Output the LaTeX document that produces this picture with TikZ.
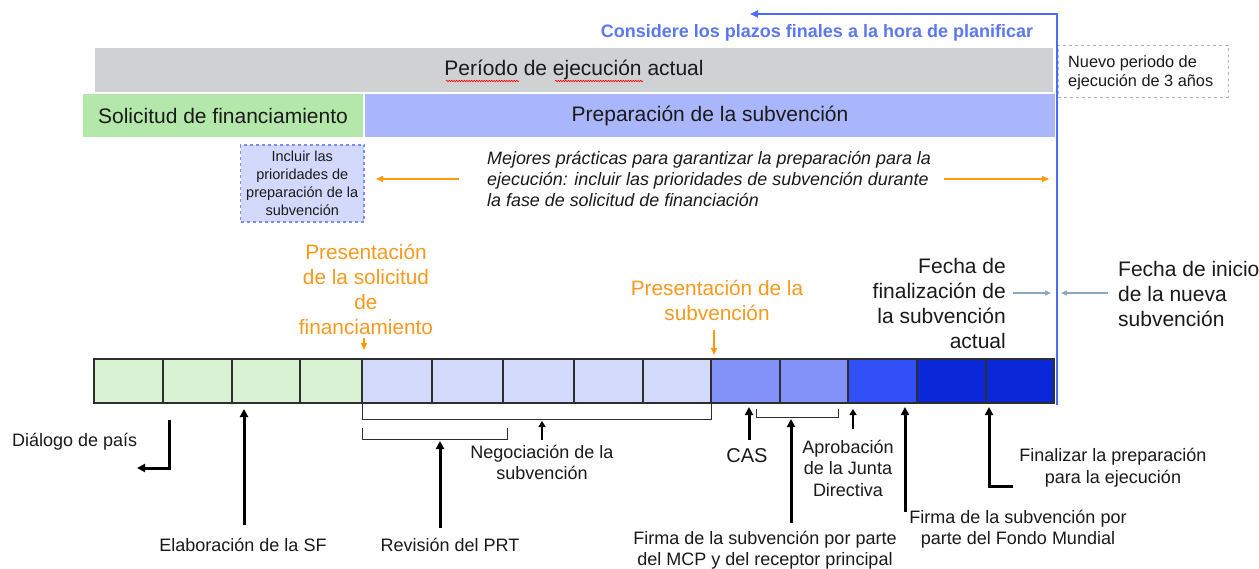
\documentclass[tikz,border=0pt]{standalone}
\usepackage{fontspec}
\setmainfont{Liberation Sans}
\usetikzlibrary{arrows.meta,decorations.pathmorphing}
\definecolor{greyb}{HTML}{D0D1D3}
\definecolor{greenb}{HTML}{B4E8AA}
\definecolor{blueb}{HTML}{AAB6FB}
\definecolor{boxfill}{HTML}{D3D9FB}
\definecolor{boxdraw}{HTML}{7B8CF2}
\definecolor{cgreen}{HTML}{D9F2D4}
\definecolor{clight}{HTML}{D4DAFB}
\definecolor{cmed}{HTML}{8292F8}
\definecolor{cbright}{HTML}{3250F8}
\definecolor{cdark}{HTML}{0A28D8}
\definecolor{orangec}{HTML}{FF9A0A}
\definecolor{orangetxt}{HTML}{F59A1E}
\definecolor{bluel}{HTML}{4F6CF5}
\definecolor{bluetxt}{HTML}{5B78EE}
\definecolor{steel}{HTML}{8AA8BF}
\definecolor{txt}{HTML}{1A1A1A}
\definecolor{lineg}{HTML}{2E2E2E}
\definecolor{dashg}{HTML}{B5B5B5}
\tikzset{
  bar/.style={inner sep=0pt, outer sep=0pt, text=txt, font=\fontsize{21}{25}\selectfont},
  cell/.style={draw=lineg, line width=1.2pt, inner sep=0pt, outer sep=0pt, minimum height=44pt, anchor=north west},
  lbl/.style={inner sep=0pt, text=txt, align=center, font=\fontsize{18}{21.5}\selectfont},
  biglbl/.style={inner sep=0pt, text=txt, font=\fontsize{21}{25}\selectfont},
  orlbl/.style={inner sep=0pt, text=orangetxt, align=center, font=\fontsize{20.8}{25}\selectfont},
  thickarr/.style={line width=3pt, draw=black, -{Triangle[length=8pt,width=8pt]}},
  thinbr/.style={line width=1pt, draw=lineg},
  orarr/.style={line width=1.5pt, draw=orangec, -{Triangle[length=7pt,width=6pt]}},
  starr/.style={line width=1.4pt, draw=steel, -{Triangle[length=6pt,width=5pt]}},
  wavy/.style={red, line width=0.6pt, decorate, decoration={snake, amplitude=0.7pt, segment length=2.5pt}}
}
\begin{document}
\begin{tikzpicture}[x=1pt,y=-1pt]
\fill[white] (0,0) rectangle (1259,569);
\useasboundingbox (0,0) rectangle (1259,569);

% top bars
\node[bar, fill=greyb, minimum width=958pt, minimum height=44pt] (per) at (574,70) {Período de ejecución actual};
\node[bar, fill=greenb, minimum width=280pt, minimum height=43pt] (sol) at (223,115.5) {Solicitud de financiamiento};
\node[bar, fill=blueb, minimum width=690pt, minimum height=43pt] (prep) at (710,115.5) {Preparación de la subvención};
\draw[wavy] (446,81) -- (519,81);
\draw[wavy] (555,81) -- (643,81);

% top blue message
\node[inner sep=0pt, text=bluetxt, font=\bfseries\fontsize{18}{21}\selectfont] (cons) at (817,33) {Considere los plazos finales a la hora de planificar};
\coordinate (blBot) at (1057,405);
\coordinate (blTop) at (1057,14);
\coordinate (blEnd) at (750,14);
\draw[line width=1.8pt, draw=bluel, -{Triangle[length=8pt,width=7pt]}] (blBot) -- (blTop) -- (blEnd);

% new period dashed box
\node[draw=dashg, dashed, line width=0.8pt, inner sep=0pt, minimum width=170pt, minimum height=52pt, anchor=north west] (nuevo) at (1058,45) {};
\node[inner sep=0pt, anchor=west, align=left, text=txt, font=\fontsize{16.3}{19}\selectfont] (nuevot) at (1068,72.5) {Nuevo periodo de\\ejecución de 3 años};

% include box and best practices
\node[draw=boxdraw, fill=boxfill, dashed, line width=1.5pt, inner sep=0pt, minimum width=123.5pt, minimum height=77pt, align=center, text=txt, font=\fontsize{14.5}{18}\selectfont] (incl) at (302.25,183.5) {Incluir las\\prioridades de\\preparación de la\\subvención};
\node[inner sep=0pt, anchor=west, align=left, text=txt, font=\itshape\fontsize{17.9}{21}\selectfont] (mej) at (487,179) {Mejores prácticas para garantizar la preparación para la\\ejecución: incluir las prioridades de subvención durante\\la fase de solicitud de financiación};
\coordinate (orL) at (459,179);
\coordinate (orLT) at (376,179);
\coordinate (orR1) at (944,179);
\coordinate (orR2) at (1049,179);
\draw[orarr] (orL) -- (orLT);
\draw[orarr] (orR1) -- (orR2);

% timeline cells
\node[cell, fill=cgreen, minimum width=69pt] (c1) at (94,359) {};
\node[cell, fill=cgreen, minimum width=69pt] (c2) at (163,359) {};
\node[cell, fill=cgreen, minimum width=68pt] (c3) at (232,359) {};
\node[cell, fill=cgreen, minimum width=62pt] (c4) at (300,359) {};
\node[cell, fill=clight, minimum width=70pt] (c5) at (362,359) {};
\node[cell, fill=clight, minimum width=71pt] (c6) at (432,359) {};
\node[cell, fill=clight, minimum width=71pt] (c7) at (503,359) {};
\node[cell, fill=clight, minimum width=69pt] (c8) at (574,359) {};
\node[cell, fill=clight, minimum width=68pt] (c9) at (643,359) {};
\node[cell, fill=cmed, minimum width=69pt] (c10) at (711,359) {};
\node[cell, fill=cmed, minimum width=68pt] (c11) at (780,359) {};
\node[cell, fill=cbright, minimum width=69pt] (c12) at (848,359) {};
\node[cell, fill=cdark, minimum width=69pt] (c13) at (917,359) {};
\node[cell, fill=cdark, minimum width=68pt] (c14) at (986,359) {};

% orange milestones
\node[orlbl] (psol) at (366,289.5) {Presentación\\de la solicitud\\de\\financiamiento};
\coordinate (psolT) at (364,350);
\draw[orarr] (364,338) -- (psolT);
\node[orlbl] (psub) at (717,300.5) {Presentación de la\\subvención};
\coordinate (psubT) at (714,355);
\draw[orarr] (714,330) -- (psubT);

% end/start dates
\node[biglbl, align=right, anchor=east] (fin) at (1006,303.5) {Fecha de\\finalización de\\la subvención\\actual};
\node[biglbl, align=left, anchor=west] (ini) at (1118,294) {Fecha de inicio\\de la nueva\\subvención};
\coordinate (finA) at (1013,293);
\coordinate (finB) at (1051,293);
\coordinate (iniA) at (1108,293);
\coordinate (iniB) at (1061,293);
\draw[starr] (finA) -- (finB);
\draw[starr] (iniA) -- (iniB);

% brackets
\draw[thinbr] (362,404) -- (362,419) -- (711,419) -- (711,404);
\draw[thinbr] (362,428) -- (362,439) -- (507,439) -- (507,428);
\draw[thinbr] (756,409) -- (756,417) -- (838,417) -- (838,409);

% bottom labels and arrows
\node[lbl, anchor=west] (dlg) at (12,442) {Diálogo de país};
\coordinate (dlgA) at (169,420);
\coordinate (dlgB) at (169,468);
\coordinate (dlgC) at (137,468);
\draw[thickarr] (dlgA) -- (dlgB) -- (dlgC);

\node[lbl] (elab) at (243,545) {Elaboración de la SF};
\coordinate (elabT) at (244,409);
\draw[thickarr] (244,525) -- (elabT);

\node[lbl] (neg) at (542,462.5) {Negociación de la\\subvención};
\coordinate (negT) at (542,421);
\draw[line width=2.5pt, -{Triangle[length=6pt,width=7pt]}] (542,440) -- (negT);

\node[lbl] (rev) at (450,545) {Revisión del PRT};
\coordinate (revT) at (440,441);
\draw[thickarr] (440,528) -- (revT);

\node[lbl, font=\fontsize{20}{24}\selectfont] (cas) at (747,456) {CAS};
\coordinate (casT) at (749,407);
\draw[thickarr] (749,440) -- (casT);

\node[lbl] (mcp) at (765,550) {Firma de la subvención por parte\\del MCP y del receptor principal};
\coordinate (mcpT) at (791,419);
\draw[thickarr] (791,523) -- (mcpT);

\node[lbl] (apr) at (848,468) {Aprobación\\de la Junta\\Directiva};
\coordinate (aprT) at (853,409);
\draw[line width=2.5pt, -{Triangle[length=6pt,width=7pt]}] (853,429) -- (aprT);

\node[lbl] (fm) at (1018,529) {Firma de la subvención por\\parte del Fondo Mundial};
\coordinate (fmT) at (905,407);
\draw[thickarr] (905,512) -- (fmT);

\node[lbl] (finp) at (1113,467.5) {Finalizar la preparación\\para la ejecución};
\coordinate (finpA) at (1013,486);
\coordinate (finpB) at (989,486);
\coordinate (finpT) at (989,407);
\draw[thickarr] (finpA) -- (finpB) -- (finpT);
\end{tikzpicture}
\end{document}
